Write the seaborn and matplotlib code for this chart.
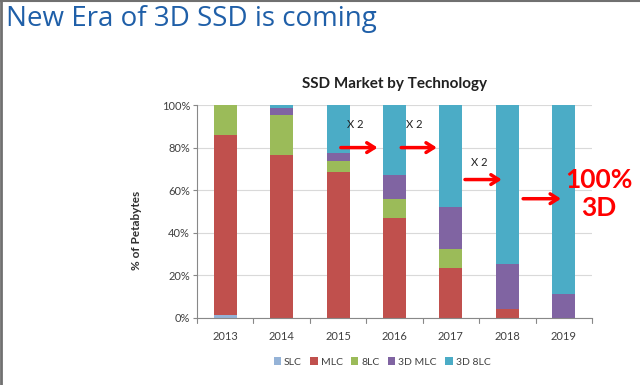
import numpy as np
import pandas as pd
import matplotlib.pyplot as plt
import seaborn as sns
from matplotlib.patches import Patch
from matplotlib.lines import Line2D

# Data (% of petabytes)
years = ['2013', '2014', '2015', '2016', '2017', '2018', '2019']
techs = ['SLC', 'MLC', '8LC', '3D MLC', '3D 8LC']
slc = [1.5, 0, 0, 0, 0, 0, 0]
mlc = [84.5, 76.3, 68.4, 46.9, 23.3, 4.0, 0]
tlc = [14.0, 19.0, 5.2, 8.9, 9.1, 0, 0]
mlc3d = [0, 3.1, 3.9, 11.2, 19.5, 21.2, 11.5]
tlc3d = [0, 1.6, 22.5, 33.0, 48.1, 74.8, 88.5]
colors = ['#95B3D7', '#C0504D', '#9BBB59', '#8064A2', '#4BACC6']

df = pd.DataFrame({'SLC': slc, 'MLC': mlc, '8LC': tlc, '3D MLC': mlc3d, '3D 8LC': tlc3d}, index=years)
cum = df.cumsum(axis=1)

sns.set_style('white')
plt.rcParams['font.family'] = ['Lato', 'DejaVu Sans']

fig = plt.figure(figsize=(6.4, 3.85), dpi=100)
ax = fig.add_axes([197/640, 1 - 318/385, 395/640, 213/385])

# stacked bars: draw cumulative totals from the top layer down
for tech, col in reversed(list(zip(techs, colors))):
    sns.barplot(x=years, y=cum[tech].values, color=col, width=0.41, saturation=1, linewidth=0,
                ax=ax, zorder=2)

ax.set_ylim(0, 100)
ax.set_xlim(-0.5, 6.5)
ax.set_yticks(np.arange(0, 101, 20))
ax.set_yticklabels([f'{v}%' for v in range(0, 101, 20)], fontsize=8, color='#404040')
ax.set_xticks(range(len(years)))
ax.set_xticklabels(years, fontsize=8, color='#404040')
ax.tick_params(axis='x', length=0, pad=9)
ax.tick_params(axis='y', length=3, left=True, color='#888888', pad=2)
for b in np.arange(-0.5, 7, 1):
    ax.plot([b, b], [0, -2.2], color='#888888', lw=0.8, clip_on=False)
ax.yaxis.grid(True, color='#d9d9d9', lw=0.8, zorder=0)
ax.set_axisbelow(True)
for s in ['top', 'right']:
    ax.spines[s].set_visible(False)
ax.spines['left'].set_color('#888888')
ax.spines['bottom'].set_color('#888888')
ax.set_xlabel('')
ax.set_ylabel('% of Petabytes', fontsize=8.5, fontweight='bold', color='#303030')
ax.yaxis.set_label_coords(-0.14, 0.41)
ax.set_title('SSD Market by Technology', fontsize=11, fontweight='bold', color='#202020', pad=12)

# growth arrows
arrows = [(2.0, 2.75, 80), (3.07, 3.8, 80), (4.2, 4.95, 65), (5.23, 6.0, 56)]
for x0, x1, y in arrows:
    ax.annotate('', xy=(x1, y), xytext=(x0, y),
                arrowprops=dict(arrowstyle='->,head_length=0.55,head_width=0.35', color='#FF0000', lw=2.5),
                zorder=5)
for x, y in [(2.3, 91), (3.35, 91), (4.5, 73)]:
    ax.text(x, y, 'X 2', fontsize=8, color='#202020', ha='center', va='center', zorder=6)
ax.text(6.62, 58, '100%\n3D', fontsize=19, fontweight='bold', color='#FF0000', ha='center', va='center',
        linespacing=1.2, zorder=6, clip_on=False)

handles = [Patch(facecolor=c, edgecolor='none') for c in colors]
fig.legend(handles, techs, loc='center', bbox_to_anchor=(382/640, 1 - 362/385), ncol=5, frameon=False,
           fontsize=7.5, handlelength=0.7, handleheight=0.7, handletextpad=0.3, columnspacing=0.8,
           labelcolor='#404040')

fig.text(6/640, 1 - 19/385, 'New Era of 3D SSD is coming', fontsize=20, color='#1F5FA8', ha='left', va='center',
         family=['Open Sans', 'DejaVu Sans'])
fig.add_artist(Line2D([0.002, 0.002], [0, 1], color='#707070', lw=2, transform=fig.transFigure))
fig.add_artist(Line2D([0, 1], [0.998, 0.998], color='#707070', lw=1.5, transform=fig.transFigure))

fig.savefig('out.png', dpi=100)
